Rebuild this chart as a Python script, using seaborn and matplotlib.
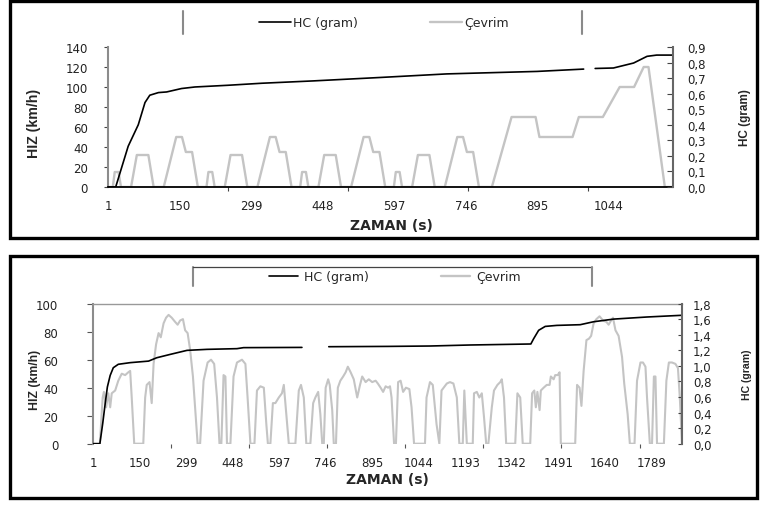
import numpy as np
import pandas as pd
import matplotlib
matplotlib.use("Agg")
import matplotlib.pyplot as plt
import seaborn as sns
from matplotlib.lines import Line2D
from matplotlib.patches import Rectangle

# ---------------- data ----------------
# Top panel: NEDC cycle speed (km/h) and cumulative HC (gram)
nedc_time = [1, 11, 15, 23, 28, 49, 61, 85, 96, 117, 143, 155, 163, 176, 188,
             206, 210, 218, 223, 244, 256, 280, 291, 312, 338, 350, 358, 371, 383,
             401, 405, 413, 418, 439, 451, 475, 486, 507, 533, 545, 553, 566, 578,
             596, 600, 608, 613, 634, 646, 670, 681, 702, 728, 740, 748, 761, 773,
             800, 841, 891, 899, 968, 981, 1031, 1066, 1096, 1116, 1126, 1160, 1177]
nedc_speed = [0, 0, 15, 15, 0, 0, 32, 32, 0, 0, 50, 50, 35, 35, 0,
              0, 15, 15, 0, 0, 32, 32, 0, 0, 50, 50, 35, 35, 0,
              0, 15, 15, 0, 0, 32, 32, 0, 0, 50, 50, 35, 35, 0,
              0, 15, 15, 0, 0, 32, 32, 0, 0, 50, 50, 35, 35, 0,
              0, 70, 70, 50, 50, 70, 70, 100, 100, 120, 120, 0, 0]

hc_top_t1 = [1, 17, 43, 64, 78, 88, 106, 123, 154, 182, 251, 321, 428, 567, 706, 776, 894, 991]
hc_top_v1 = [0, 0, 0.262, 0.40, 0.543, 0.59, 0.607, 0.611, 0.633, 0.643, 0.654, 0.667,
             0.682, 0.704, 0.727, 0.733, 0.743, 0.758]
hc_top_t2 = [1015, 1053, 1095, 1123, 1143, 1177]
hc_top_v2 = [0.762, 0.765, 0.797, 0.84, 0.848, 0.848]

# Bottom panel: FTP-75 cycle speed (km/h) and cumulative HC (gram)
ftp_time = [1, 23, 32, 36, 43, 50, 56, 61, 72, 82,
            93, 104, 114, 120, 125, 133, 162, 168, 173, 182,
            189, 195, 203, 211, 218, 227, 235, 243, 253, 264,
            272, 280, 289, 296, 304, 312, 321, 328, 336, 344,
            355, 368, 379, 389, 398, 406, 412, 419, 425, 430,
            441, 451, 462, 478, 489, 496, 505, 518, 526, 537,
            548, 556, 561, 569, 577, 585, 596, 606, 612, 620,
            628, 649, 660, 667, 676, 684, 697, 706, 713, 722,
            729, 735, 740, 746, 754, 759, 767, 772, 779, 785,
            793, 802, 810, 817, 826, 836, 847, 856, 863, 874,
            884, 895, 906, 913, 922, 930, 938, 946, 952, 957,
            965, 971, 978, 986, 994, 1003, 1014, 1021, 1029, 1064,
            1069, 1080, 1089, 1096, 1101, 1110, 1117, 1134, 1144, 1155,
            1166, 1174, 1185, 1190, 1198, 1217, 1221, 1230, 1238, 1246,
            1253, 1260, 1267, 1278, 1285, 1296, 1305, 1310, 1317, 1324,
            1353, 1360, 1369, 1377, 1401, 1407, 1414, 1419, 1424, 1431,
            1435, 1444, 1454, 1463, 1467, 1476, 1481, 1489, 1495, 1499,
            1545, 1551, 1559, 1565, 1572, 1581, 1589, 1596, 1604, 1613,
            1623, 1634, 1645, 1652, 1660, 1666, 1674, 1684, 1695, 1702,
            1713, 1720, 1735, 1743, 1754, 1762, 1770, 1775, 1784, 1791,
            1797, 1802, 1807, 1829, 1837, 1845, 1855, 1866, 1874, 1880,
            1887]
ftp_speed = [0, 0, 33, 37, 26, 36, 26, 36, 38, 45,
             50, 49, 51, 52, 33, 0, 0, 33, 42, 44,
             29, 57, 71, 79, 76, 86, 90, 92, 90, 87,
             85, 88, 89, 81, 79, 67, 48, 26, 0, 0,
             45, 58, 60, 57, 33, 0, 0, 49, 48, 0,
             0, 48, 58, 60, 57, 33, 0, 0, 38, 41,
             40, 14, 0, 0, 29, 29, 33, 36, 42, 21,
             0, 0, 38, 42, 33, 0, 0, 29, 33, 37,
             21, 0, 0, 40, 46, 42, 24, 0, 0, 40,
             45, 48, 51, 55, 51, 46, 33, 42, 48, 44,
             46, 44, 45, 43, 40, 37, 41, 40, 41, 33,
             0, 0, 44, 45, 37, 40, 39, 26, 0, 0,
             33, 44, 42, 26, 14, 0, 38, 43, 44, 43,
             33, 0, 0, 38, 0, 0, 36, 37, 33, 36,
             19, 0, 0, 26, 38, 42, 44, 46, 33, 0,
             0, 36, 33, 0, 0, 36, 38, 26, 37, 24,
             38, 40, 42, 42, 48, 46, 49, 49, 51, 0,
             0, 42, 40, 27, 52, 74, 75, 77, 86, 89,
             91, 88, 87, 85, 88, 90, 81, 77, 62, 43,
             21, 0, 0, 45, 58, 58, 55, 33, 0, 0,
             48, 48, 0, 0, 45, 58, 58, 57, 54, 33,
             0]

hc_bot_t1 = [1, 23, 32, 40, 47, 56, 66, 82, 120, 179, 205, 248, 302, 366, 462, 483, 670]
hc_bot_v1 = [0, 0, 0.257, 0.515, 0.729, 0.878, 0.977, 1.021, 1.042, 1.062, 1.105, 1.148,
             1.2, 1.213, 1.222, 1.235, 1.238]
hc_bot_t2 = [756, 946, 1080, 1208, 1403, 1412, 1428, 1449, 1486, 1561, 1604, 1668, 1775, 1887]
hc_bot_v2 = [1.247, 1.251, 1.256, 1.269, 1.282, 1.35, 1.458, 1.508, 1.521, 1.53, 1.568,
             1.602, 1.629, 1.651]

top_xticks = [1, 150, 299, 448, 597, 746, 895, 1044]
bot_xticks = [1, 150, 299, 448, 597, 746, 895, 1044, 1193, 1342, 1491, 1640, 1789]
top_left_ticks = [0, 20, 40, 60, 80, 100, 120, 140]
top_right_ticks = [0.0, 0.1, 0.2, 0.3, 0.4, 0.5, 0.6, 0.7, 0.8, 0.9]
top_right_labels = ["0,0", "0,1", "0,2", "0,3", "0,4", "0,5", "0,6", "0,7", "0,8", "0,9"]
bot_left_ticks = [0, 20, 40, 60, 80, 100]
bot_right_ticks = [0.0, 0.2, 0.4, 0.6, 0.8, 1.0, 1.2, 1.4, 1.6, 1.8]
bot_right_labels = ["0,0", "0,2", "0,4", "0,6", "0,8", "1,0", "1,2", "1,4", "1,6", "1,8"]
top_minor = [251, 501, 751, 1001]
bot_minor = [251, 501, 751, 1001, 1251, 1501, 1751]

series_names = ["HC (gram)", "Çevrim"]

# ---------------- style ----------------
sns.set_style("white")
plt.rcParams['font.family'] = ['DejaVu Sans']

GRAY = "#c4c4c4"
W, H = 760, 506

fig = plt.figure(figsize=(7.6, 5.06), dpi=100)


def rect(x0, y0, x1, y1):
    return [x0 / W, 1 - y1 / H, (x1 - x0) / W, (y1 - y0) / H]


def hc_frame(t1, v1, t2, v2):
    return pd.DataFrame({
        "t": t1 + t2,
        "v": v1 + v2,
        "seg": [0] * len(t1) + [1] * len(t2),
    })


ax1 = fig.add_axes(rect(108, 48, 673, 188))
ax1r = ax1.twinx()
ax2 = fig.add_axes(rect(93, 304.7, 682, 444.7))
ax2r = ax2.twinx()

# lines
sns.lineplot(data=pd.DataFrame({"t": nedc_time, "v": nedc_speed}), x="t", y="v",
             ax=ax1, color=GRAY, lw=1.7, estimator=None, legend=False)
sns.lineplot(data=hc_frame(hc_top_t1, hc_top_v1, hc_top_t2, hc_top_v2), x="t", y="v",
             units="seg", ax=ax1r, color="black", lw=1.2, estimator=None, legend=False)
sns.lineplot(data=pd.DataFrame({"t": ftp_time, "v": ftp_speed}), x="t", y="v",
             ax=ax2, color=GRAY, lw=1.5, estimator=None, legend=False)
sns.lineplot(data=hc_frame(hc_bot_t1, hc_bot_v1, hc_bot_t2, hc_bot_v2), x="t", y="v",
             units="seg", ax=ax2r, color="black", lw=1.2, estimator=None, legend=False)

for a in (ax1, ax1r, ax2, ax2r):
    a.set_xlabel("")
    a.set_ylabel("")

# ---- top panel axes ----
ax1.set_xlim(1, 1177)
ax1.set_ylim(0, 140)
ax1r.set_ylim(0, 0.9)
ax1.set_xticks(top_xticks)
ax1.set_xticklabels([str(v) for v in top_xticks])
ax1.set_xticks(top_minor, minor=True)
ax1.set_yticks(top_left_ticks)
ax1.set_yticklabels([str(v) for v in top_left_ticks])
ax1r.set_yticks(top_right_ticks)
ax1r.set_yticklabels(top_right_labels)

ax1.tick_params(axis="x", which="major", bottom=True, length=0, pad=9,
                labelsize=8.5, labelcolor="#222222")
ax1.tick_params(axis="x", which="minor", bottom=True, length=3, width=0.8,
                direction="out", color="#444444")
ax1.tick_params(axis="y", left=True, length=3, width=0.8, direction="out", pad=11.5,
                labelsize=8.5, labelcolor="#222222", color="#444444")
ax1r.tick_params(axis="y", right=True, length=4, width=0.8, direction="in", pad=10,
                 labelsize=8.5, labelcolor="#222222", color="#444444")

for s in ("top", "right"):
    ax1.spines[s].set_visible(False)
ax1.spines["left"].set_color("#8c8c8c")
ax1.spines["left"].set_linewidth(1.5)
ax1.spines["bottom"].set_color("black")
ax1.spines["bottom"].set_linewidth(1.3)
for s in ("top", "left", "bottom"):
    ax1r.spines[s].set_visible(False)
ax1r.spines["right"].set_color("#666666")
ax1r.spines["right"].set_linewidth(1.5)

# ---- bottom panel axes ----
ax2.set_xlim(1, 1887)
ax2.set_ylim(0, 100)
ax2r.set_ylim(0, 1.8)
ax2.set_xticks(bot_xticks)
ax2.set_xticklabels([str(v) for v in bot_xticks])
ax2.set_xticks(bot_minor, minor=True)
ax2.set_yticks(bot_left_ticks)
ax2.set_yticklabels([str(v) for v in bot_left_ticks])
ax2r.set_yticks(bot_right_ticks)
ax2r.set_yticklabels(bot_right_labels)

ax2.tick_params(axis="x", which="major", bottom=True, length=0, pad=8.7,
                labelsize=8.5, labelcolor="#222222")
ax2.tick_params(axis="x", which="minor", bottom=True, length=3, width=0.8,
                direction="out", color="#555555")
ax2.tick_params(axis="y", left=True, length=4, width=0.8, direction="out", pad=21,
                labelsize=8.5, labelcolor="#222222", color="#555555")
ax2r.tick_params(axis="y", right=True, length=3, width=0.8, direction="in", pad=8,
                 labelsize=8.5, labelcolor="#222222", color="#444444")

ax2.spines["right"].set_visible(False)
ax2.spines["bottom"].set_visible(False)
ax2.spines["top"].set_color("#999999")
ax2.spines["top"].set_linewidth(1.0)
ax2.spines["left"].set_color("#8c8c8c")
ax2.spines["left"].set_linewidth(1.5)
for s in ("top", "left", "bottom"):
    ax2r.spines[s].set_visible(False)
ax2r.spines["right"].set_color("#666666")
ax2r.spines["right"].set_linewidth(1.5)

# ---- axis titles ----
fig.text(34 / W, 1 - 123 / H, "HIZ (km/h)", rotation=90, ha="center", va="center",
         fontsize=10.2, fontweight="bold", family="Liberation Sans")
fig.text(745 / W, 1 - 118 / H, "HC (gram)", rotation=90, ha="center", va="center",
         fontsize=8.5, fontweight="bold", family="Liberation Sans")
fig.text(391 / W, 1 - 226 / H, "ZAMAN (s)", ha="center", va="center",
         fontsize=10, fontweight="bold")
fig.text(35 / W, 1 - 380 / H, "HIZ (km/h)", rotation=90, ha="center", va="center",
         fontsize=8.8, fontweight="bold", family="Liberation Sans")
fig.text(747 / W, 1 - 375 / H, "HC (gram)", rotation=90, ha="center", va="center",
         fontsize=7.6, fontweight="bold", family="Liberation Sans")
fig.text(387 / W, 1 - 480 / H, "ZAMAN (s)", ha="center", va="center",
         fontsize=10, fontweight="bold")

# ---- legends ----
def handles():
    return [Line2D([], [], color="black", lw=1.2, label=series_names[0]),
            Line2D([], [], color=GRAY, lw=1.7, label=series_names[1])]

fig.legend(handles=handles(), loc="center", bbox_to_anchor=(384 / W, 1 - 24 / H),
           ncol=2, frameon=False, fontsize=9, handlelength=2.5, handletextpad=0.2,
           columnspacing=5.8, borderpad=0, borderaxespad=0)
fig.legend(handles=handles(), loc="center", bbox_to_anchor=(395 / W, 1 - 278 / H),
           ncol=2, frameon=False, fontsize=9, handlelength=2.3, handletextpad=0.5,
           columnspacing=5.8, borderpad=0, borderaxespad=0)

def fig_line(xs, ys, **kw):
    fig.add_artist(Line2D([x / W for x in xs], [1 - y / H for y in ys],
                          transform=fig.transFigure, **kw))

fig_line([183, 183], [12, 35], color="#8a8a8a", lw=1.5)
fig_line([582, 582], [12, 35], color="#8a8a8a", lw=1.5)
fig_line([193, 193], [287, 268], color="#8a8a8a", lw=1.5)
fig_line([193, 592], [268, 268], color="#444444", lw=0.9)
fig_line([592, 592], [268, 287], color="#8a8a8a", lw=1.5)

# ---- outer borders ----
fig.add_artist(Rectangle((10 / W, 1 - 239 / H), 747 / W, 237.5 / H,
                         transform=fig.transFigure, fill=False, ec="black", lw=2.4))
fig.add_artist(Rectangle((10 / W, 1 - 499 / H), 747 / W, 242 / H,
                         transform=fig.transFigure, fill=False, ec="black", lw=2.4))

fig.savefig("out.png", dpi=100)
